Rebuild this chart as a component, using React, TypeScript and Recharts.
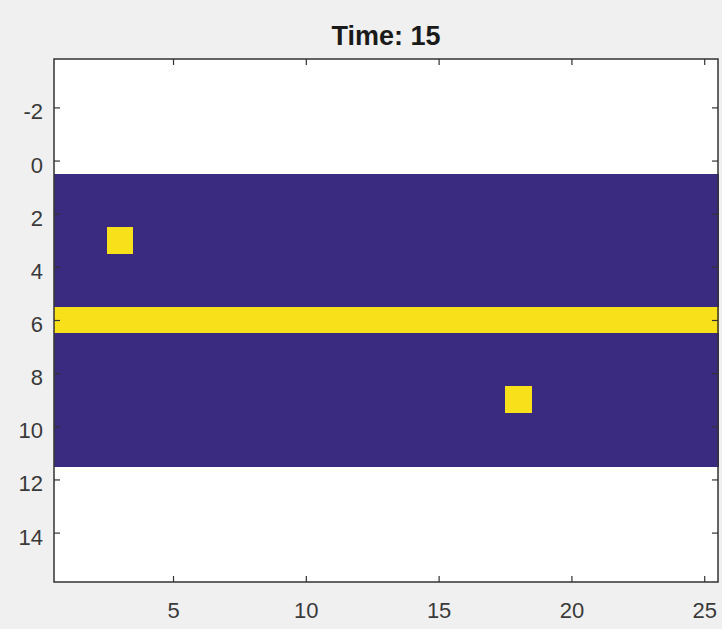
import React from "react";
import { ComposedChart, XAxis, YAxis, ReferenceArea, CartesianGrid } from "recharts";

// Image columns and rows (cell centres)
const cols = [1, 2, 3, 4, 5, 6, 7, 8, 9, 10, 11, 12, 13, 14, 15, 16, 17, 18, 19, 20, 21, 22, 23, 24, 25];
const rows = [1, 2, 3, 4, 5, 6, 7, 8, 9, 10, 11];

// Cell values at Time 15 (0 = empty, 1 = occupied)
const grid = [
  [0, 0, 0, 0, 0, 0, 0, 0, 0, 0, 0, 0, 0, 0, 0, 0, 0, 0, 0, 0, 0, 0, 0, 0, 0],
  [0, 0, 0, 0, 0, 0, 0, 0, 0, 0, 0, 0, 0, 0, 0, 0, 0, 0, 0, 0, 0, 0, 0, 0, 0],
  [0, 0, 1, 0, 0, 0, 0, 0, 0, 0, 0, 0, 0, 0, 0, 0, 0, 0, 0, 0, 0, 0, 0, 0, 0],
  [0, 0, 0, 0, 0, 0, 0, 0, 0, 0, 0, 0, 0, 0, 0, 0, 0, 0, 0, 0, 0, 0, 0, 0, 0],
  [0, 0, 0, 0, 0, 0, 0, 0, 0, 0, 0, 0, 0, 0, 0, 0, 0, 0, 0, 0, 0, 0, 0, 0, 0],
  [1, 1, 1, 1, 1, 1, 1, 1, 1, 1, 1, 1, 1, 1, 1, 1, 1, 1, 1, 1, 1, 1, 1, 1, 1],
  [0, 0, 0, 0, 0, 0, 0, 0, 0, 0, 0, 0, 0, 0, 0, 0, 0, 0, 0, 0, 0, 0, 0, 0, 0],
  [0, 0, 0, 0, 0, 0, 0, 0, 0, 0, 0, 0, 0, 0, 0, 0, 0, 0, 0, 0, 0, 0, 0, 0, 0],
  [0, 0, 0, 0, 0, 0, 0, 0, 0, 0, 0, 0, 0, 0, 0, 0, 0, 1, 0, 0, 0, 0, 0, 0, 0],
  [0, 0, 0, 0, 0, 0, 0, 0, 0, 0, 0, 0, 0, 0, 0, 0, 0, 0, 0, 0, 0, 0, 0, 0, 0],
  [0, 0, 0, 0, 0, 0, 0, 0, 0, 0, 0, 0, 0, 0, 0, 0, 0, 0, 0, 0, 0, 0, 0, 0, 0],
];

const xTicks = [5, 10, 15, 20, 25];
const yTicks = [-2, 0, 2, 4, 6, 8, 10, 12, 14];
const xDomain = [0.5, 25.5];
const yDomain = [-3.84, 15.84];

const colors = ["#3a2a80", "#f8e11b"];
const FONT = "'Liberation Sans', Arial, Helvetica, sans-serif";
const PLOT_TOP = 59;
const PLOT_BOTTOM = 582;
const PLOT_LEFT = 54;
const PLOT_RIGHT = 718;

const XTick = (props: any) => {
  const { x, payload } = props;
  return (
    <g>
      <line x1={x} x2={x} y1={PLOT_BOTTOM} y2={PLOT_BOTTOM - 6} stroke="#333" strokeWidth={1.2} />
      <line x1={x} x2={x} y1={PLOT_TOP} y2={PLOT_TOP + 6} stroke="#333" strokeWidth={1.2} />
      <text x={x} y={PLOT_BOTTOM + 28} textAnchor="middle" dominantBaseline="central" fontSize={22} fill="#3a3a3a" fontFamily={FONT}>
        {payload.value}
      </text>
    </g>
  );
};

const YTick = (props: any) => {
  const { y, payload } = props;
  return (
    <g>
      <line x1={PLOT_LEFT} x2={PLOT_LEFT + 6} y1={y} y2={y} stroke="#333" strokeWidth={1.2} />
      <line x1={PLOT_RIGHT} x2={PLOT_RIGHT - 6} y1={y} y2={y} stroke="#333" strokeWidth={1.2} />
      <text x={PLOT_LEFT - 11} y={y + 4} textAnchor="end" dominantBaseline="central" fontSize={22} fill="#3a3a3a" fontFamily={FONT}>
        {payload.value}
      </text>
    </g>
  );
};

export default function App() {
  const cells: React.ReactNode[] = [];
  rows.forEach((r, ri) => {
    cols.forEach((c, ci) => {
      const fill = colors[grid[ri][ci]];
      cells.push(
        <ReferenceArea
          key={`${r}-${c}`}
          x1={c - 0.5}
          x2={c + 0.5}
          y1={r - 0.5}
          y2={r + 0.5}
          fill={fill}
          fillOpacity={1}
          stroke={fill}
          strokeOpacity={1}
          strokeWidth={1}
          shapeRendering="crispEdges"
          ifOverflow="visible"
        />
      );
    });
  });

  return (
    <div style={{ position: "absolute", left: 0, top: 0, width: 722, height: 629, background: "#f0f0f0" }}>
      <div
        style={{
          position: "absolute",
          left: PLOT_LEFT,
          width: PLOT_RIGHT - PLOT_LEFT,
          top: 19,
          textAlign: "center",
          fontFamily: FONT,
          fontWeight: "bold",
          fontSize: 27,
          lineHeight: "34px",
          color: "#1a1a1a",
        }}
      >
        Time: 15
      </div>
      <ComposedChart width={722} height={629} margin={{ top: PLOT_TOP, right: 722 - PLOT_RIGHT, bottom: 0, left: 0 }}>
        <CartesianGrid fill="#ffffff" horizontal={false} vertical={false} />
        <XAxis
          type="number"
          dataKey="x"
          domain={xDomain}
          ticks={xTicks}
          height={629 - PLOT_BOTTOM}
          tickLine={false}
          tickSize={0}
          tickMargin={0}
          axisLine={false}
          allowDataOverflow
          tick={<XTick />}
          interval={0}
        />
        <YAxis
          type="number"
          dataKey="y"
          domain={yDomain}
          ticks={yTicks}
          reversed
          width={PLOT_LEFT}
          tickLine={false}
          tickSize={0}
          tickMargin={0}
          axisLine={false}
          allowDataOverflow
          tick={<YTick />}
          interval={0}
        />
        {cells}
        <ReferenceArea
          x1={xDomain[0]}
          x2={xDomain[1]}
          y1={yDomain[0]}
          y2={yDomain[1]}
          fill="none"
          stroke="#333"
          strokeWidth={1.5}
          ifOverflow="visible"
        />
      </ComposedChart>
    </div>
  );
}
